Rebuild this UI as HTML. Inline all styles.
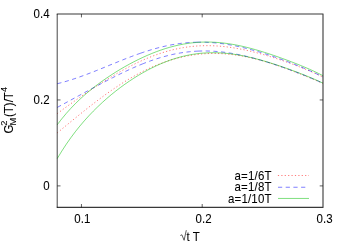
<!DOCTYPE html>
<html><head><meta charset="utf-8"><style>
html,body{margin:0;padding:0;background:#fff;}
svg{display:block}
text{font-family:"Liberation Sans",sans-serif;font-size:11.5px;fill:#000;stroke:#000;stroke-width:0.06px}
</style></head><body>
<svg width="350" height="245" viewBox="0 0 350 245">
<defs><filter id="soft" x="-5%" y="-5%" width="110%" height="110%"><feGaussianBlur stdDeviation="0.4"/></filter></defs>
<rect width="350" height="245" fill="#fff"/>
<g fill="none" stroke-width="0.8" stroke-opacity="0.63">
<path d="M57.30 113.57 C58.05 113.02 60.30 111.34 61.80 110.23 C63.30 109.13 64.80 108.03 66.30 106.95 C67.80 105.86 69.30 104.78 70.81 103.71 C72.31 102.63 73.81 101.57 75.31 100.51 C76.81 99.45 78.31 98.40 79.81 97.36 C81.31 96.32 82.81 95.29 84.31 94.26 C85.81 93.23 87.31 92.22 88.81 91.21 C90.31 90.20 91.81 89.20 93.31 88.20 C94.81 87.21 96.31 86.23 97.82 85.26 C99.32 84.29 100.82 83.33 102.32 82.38 C103.82 81.43 105.32 80.49 106.82 79.56 C108.32 78.63 109.82 77.72 111.32 76.81 C112.82 75.91 114.32 75.02 115.82 74.15 C117.32 73.27 118.82 72.41 120.32 71.57 C121.82 70.72 123.32 69.89 124.83 69.08 C126.33 68.27 127.83 67.47 129.33 66.69 C130.83 65.91 132.33 65.15 133.83 64.40 C135.33 63.66 136.83 62.94 138.33 62.23 C139.83 61.52 141.33 60.84 142.83 60.17 C144.33 59.51 145.83 58.86 147.33 58.24 C148.83 57.61 150.34 57.01 151.84 56.43 C153.34 55.85 154.84 55.29 156.34 54.75 C157.84 54.21 159.34 53.70 160.84 53.21 C162.34 52.72 163.84 52.25 165.34 51.80 C166.84 51.36 168.34 50.94 169.84 50.54 C171.34 50.15 172.84 49.77 174.34 49.43 C175.84 49.08 177.35 48.75 178.85 48.45 C180.35 48.16 181.85 47.88 183.35 47.63 C184.85 47.38 186.35 47.15 187.85 46.95 C189.35 46.75 190.85 46.57 192.35 46.42 C193.85 46.26 195.35 46.13 196.85 46.03 C198.35 45.92 199.85 45.84 201.35 45.78 C202.85 45.72 204.36 45.68 205.86 45.67 C207.36 45.66 208.86 45.67 210.36 45.70 C211.86 45.73 213.36 45.78 214.86 45.86 C216.36 45.93 217.86 46.03 219.36 46.15 C220.86 46.26 222.36 46.40 223.86 46.56 C225.36 46.72 226.86 46.89 228.36 47.09 C229.86 47.28 231.37 47.50 232.87 47.73 C234.37 47.96 235.87 48.21 237.37 48.48 C238.87 48.75 240.37 49.03 241.87 49.33 C243.37 49.63 244.87 49.94 246.37 50.27 C247.87 50.60 249.37 50.95 250.87 51.31 C252.37 51.66 253.87 52.04 255.37 52.42 C256.88 52.81 258.38 53.21 259.88 53.61 C261.38 54.02 262.88 54.45 264.38 54.88 C265.88 55.31 267.38 55.76 268.88 56.21 C270.38 56.66 271.88 57.13 273.38 57.60 C274.88 58.08 276.38 58.56 277.88 59.06 C279.38 59.55 280.88 60.05 282.38 60.57 C283.89 61.08 285.39 61.60 286.89 62.13 C288.39 62.66 289.89 63.20 291.39 63.75 C292.89 64.30 294.39 64.86 295.89 65.43 C297.39 66.00 298.89 66.58 300.39 67.17 C301.89 67.76 303.39 68.36 304.89 68.97 C306.39 69.59 307.89 70.21 309.39 70.85 C310.90 71.49 312.40 72.14 313.90 72.81 C315.40 73.48 316.90 74.16 318.40 74.86 C319.90 75.56 322.15 76.65 322.90 77.01" stroke="#ff0000" stroke-dasharray="1.2 2.2" stroke-width="1" stroke-opacity="0.52"/>
<path d="M57.30 132.83 C58.05 132.22 60.30 130.37 61.80 129.14 C63.30 127.90 64.80 126.67 66.30 125.43 C67.80 124.20 69.30 122.96 70.81 121.73 C72.31 120.50 73.81 119.27 75.31 118.05 C76.81 116.82 78.31 115.60 79.81 114.39 C81.31 113.18 82.81 111.97 84.31 110.77 C85.81 109.58 87.31 108.39 88.81 107.21 C90.31 106.03 91.81 104.86 93.31 103.71 C94.81 102.55 96.31 101.41 97.82 100.27 C99.32 99.14 100.82 98.02 102.32 96.92 C103.82 95.82 105.32 94.73 106.82 93.65 C108.32 92.58 109.82 91.52 111.32 90.48 C112.82 89.44 114.32 88.42 115.82 87.41 C117.32 86.41 118.82 85.42 120.32 84.45 C121.82 83.48 123.32 82.53 124.83 81.60 C126.33 80.67 127.83 79.76 129.33 78.88 C130.83 77.99 132.33 77.12 133.83 76.27 C135.33 75.42 136.83 74.60 138.33 73.80 C139.83 72.99 141.33 72.21 142.83 71.45 C144.33 70.69 145.83 69.96 147.33 69.24 C148.83 68.53 150.34 67.84 151.84 67.17 C153.34 66.51 154.84 65.87 156.34 65.25 C157.84 64.63 159.34 64.03 160.84 63.46 C162.34 62.89 163.84 62.34 165.34 61.82 C166.84 61.30 168.34 60.80 169.84 60.33 C171.34 59.85 172.84 59.41 174.34 58.98 C175.84 58.56 177.35 58.16 178.85 57.78 C180.35 57.41 181.85 57.06 183.35 56.73 C184.85 56.41 186.35 56.11 187.85 55.83 C189.35 55.55 190.85 55.30 192.35 55.08 C193.85 54.85 195.35 54.65 196.85 54.47 C198.35 54.29 199.85 54.13 201.35 54.00 C202.85 53.87 204.36 53.77 205.86 53.68 C207.36 53.60 208.86 53.54 210.36 53.51 C211.86 53.47 213.36 53.46 214.86 53.47 C216.36 53.48 217.86 53.51 219.36 53.57 C220.86 53.62 222.36 53.70 223.86 53.80 C225.36 53.90 226.86 54.02 228.36 54.16 C229.86 54.31 231.37 54.47 232.87 54.66 C234.37 54.84 235.87 55.05 237.37 55.27 C238.87 55.50 240.37 55.74 241.87 56.01 C243.37 56.27 244.87 56.56 246.37 56.86 C247.87 57.16 249.37 57.49 250.87 57.82 C252.37 58.16 253.87 58.52 255.37 58.89 C256.88 59.27 258.38 59.66 259.88 60.06 C261.38 60.47 262.88 60.89 264.38 61.33 C265.88 61.76 267.38 62.21 268.88 62.68 C270.38 63.14 271.88 63.62 273.38 64.12 C274.88 64.61 276.38 65.11 277.88 65.63 C279.38 66.14 280.88 66.67 282.38 67.21 C283.89 67.74 285.39 68.29 286.89 68.85 C288.39 69.41 289.89 69.97 291.39 70.55 C292.89 71.12 294.39 71.70 295.89 72.29 C297.39 72.88 298.89 73.47 300.39 74.07 C301.89 74.67 303.39 75.27 304.89 75.88 C306.39 76.48 307.89 77.09 309.39 77.70 C310.90 78.32 312.40 78.93 313.90 79.54 C315.40 80.15 316.90 80.77 318.40 81.38 C319.90 81.99 322.15 82.90 322.90 83.21" stroke="#ff0000" stroke-dasharray="1.2 2.2" stroke-width="1" stroke-opacity="0.52"/>
<path d="M57.30 83.70 C58.03 83.52 60.22 82.97 61.67 82.58 C63.13 82.19 64.59 81.78 66.05 81.35 C67.51 80.93 68.96 80.49 70.42 80.03 C71.88 79.57 73.34 79.10 74.79 78.61 C76.25 78.13 77.71 77.63 79.17 77.11 C80.63 76.60 82.08 76.08 83.54 75.54 C85.00 75.01 86.46 74.46 87.92 73.90 C89.37 73.35 90.83 72.78 92.29 72.21 C93.75 71.64 95.21 71.07 96.66 70.48 C98.12 69.90 99.58 69.31 101.04 68.72 C102.49 68.13 103.95 67.53 105.41 66.94 C106.87 66.34 108.33 65.74 109.78 65.14 C111.24 64.55 112.70 63.95 114.16 63.35 C115.62 62.76 117.07 62.16 118.53 61.58 C119.99 60.99 121.45 60.40 122.91 59.82 C124.36 59.25 125.82 58.67 127.28 58.11 C128.74 57.54 130.19 56.99 131.65 56.44 C133.11 55.89 134.57 55.35 136.03 54.82 C137.48 54.30 139.67 53.53 140.40 53.28" stroke="#0000ff" stroke-dasharray="4.2 3.5"/>
<path d="M140.40 53.28 C141.12 53.03 143.30 52.28 144.75 51.81 C146.19 51.33 147.64 50.87 149.09 50.43 C150.54 49.98 151.99 49.55 153.44 49.13 C154.89 48.71 156.34 48.31 157.78 47.93 C159.23 47.55 160.68 47.18 162.13 46.83 C163.58 46.48 165.03 46.15 166.48 45.84 C167.93 45.53 169.37 45.23 170.82 44.96 C172.27 44.69 173.72 44.43 175.17 44.20 C176.62 43.96 178.07 43.75 179.52 43.55 C180.96 43.36 182.41 43.18 183.86 43.03 C185.31 42.87 186.76 42.74 188.21 42.63 C189.66 42.51 191.11 42.42 192.55 42.35 C194.00 42.28 196.18 42.22 196.90 42.19" stroke="#0000ff" stroke-dasharray="4.2 3.5"/>
<path d="M196.90 42.19 C197.60 42.19 199.70 42.15 201.10 42.16 C202.50 42.17 203.90 42.20 205.30 42.24 C206.70 42.29 208.10 42.35 209.50 42.43 C210.90 42.52 212.30 42.62 213.70 42.74 C215.10 42.85 216.50 42.99 217.90 43.14 C219.30 43.30 220.70 43.47 222.10 43.65 C223.50 43.84 224.90 44.05 226.30 44.27 C227.70 44.48 229.10 44.72 230.50 44.97 C231.90 45.22 233.30 45.49 234.70 45.77 C236.10 46.05 237.50 46.34 238.90 46.65 C240.30 46.96 241.70 47.28 243.10 47.62 C244.50 47.95 245.90 48.30 247.30 48.66 C248.70 49.02 250.10 49.39 251.50 49.77 C252.90 50.16 254.30 50.55 255.70 50.96 C257.10 51.36 258.50 51.78 259.90 52.20 C261.30 52.62 262.70 53.06 264.10 53.50 C265.50 53.95 266.90 54.40 268.30 54.86 C269.70 55.32 271.10 55.79 272.50 56.27 C273.90 56.74 275.30 57.23 276.70 57.72 C278.10 58.21 279.50 58.71 280.90 59.22 C282.30 59.73 283.70 60.24 285.10 60.76 C286.50 61.28 287.90 61.81 289.30 62.35 C290.70 62.88 292.10 63.43 293.50 63.98 C294.90 64.53 296.30 65.09 297.70 65.65 C299.10 66.22 300.50 66.79 301.90 67.37 C303.30 67.96 304.70 68.55 306.10 69.15 C307.50 69.75 308.90 70.36 310.30 70.98 C311.70 71.60 313.10 72.23 314.50 72.87 C315.90 73.52 317.30 74.17 318.70 74.84 C320.10 75.51 322.20 76.56 322.90 76.90" stroke="#0000ff" stroke-dasharray="4.2 3.5"/>
<path d="M57.30 107.40 C58.01 107.01 60.12 105.85 61.53 105.08 C62.95 104.31 64.36 103.54 65.77 102.77 C67.18 102.00 68.59 101.23 70.00 100.47 C71.42 99.70 72.83 98.93 74.24 98.17 C75.65 97.40 77.06 96.63 78.47 95.86 C79.89 95.10 81.30 94.33 82.71 93.57 C84.12 92.80 85.53 92.04 86.94 91.27 C88.36 90.51 89.77 89.75 91.18 88.99 C92.59 88.23 94.00 87.47 95.41 86.71 C96.83 85.96 98.24 85.20 99.65 84.45 C101.06 83.70 102.47 82.96 103.88 82.21 C105.30 81.47 106.71 80.74 108.12 80.00 C109.53 79.27 110.94 78.55 112.36 77.83 C113.77 77.11 115.18 76.40 116.59 75.69 C118.00 74.99 119.41 74.29 120.83 73.60 C122.24 72.92 123.65 72.24 125.06 71.57 C126.47 70.90 127.88 70.24 129.30 69.60 C130.71 68.95 132.12 68.31 133.53 67.69 C134.94 67.07 136.35 66.46 137.76 65.86 C139.18 65.27 141.29 64.41 142.00 64.12" stroke="#0000ff" stroke-dasharray="4.2 3.5"/>
<path d="M142.00 64.12 C142.72 63.84 144.87 62.98 146.31 62.43 C147.74 61.89 149.18 61.36 150.62 60.84 C152.05 60.33 153.49 59.84 154.92 59.36 C156.36 58.89 157.79 58.43 159.23 57.99 C160.67 57.55 162.10 57.13 163.54 56.73 C164.97 56.33 166.41 55.94 167.85 55.58 C169.28 55.22 170.72 54.88 172.15 54.56 C173.59 54.24 175.03 53.94 176.46 53.67 C177.90 53.39 179.33 53.13 180.77 52.90 C182.21 52.66 183.64 52.45 185.08 52.26 C186.51 52.07 187.95 51.90 189.38 51.75 C190.82 51.60 192.26 51.47 193.69 51.37 C195.13 51.26 197.28 51.16 198.00 51.11" stroke="#0000ff" stroke-dasharray="4.2 3.5"/>
<path d="M198.00 51.11 C198.69 51.09 200.78 51.01 202.16 50.99 C203.55 50.97 204.94 50.97 206.33 50.99 C207.71 51.01 209.10 51.04 210.49 51.10 C211.88 51.16 213.27 51.23 214.65 51.32 C216.04 51.42 217.43 51.53 218.82 51.66 C220.20 51.79 221.59 51.94 222.98 52.10 C224.37 52.26 225.76 52.44 227.14 52.64 C228.53 52.84 229.92 53.05 231.31 53.28 C232.69 53.51 234.08 53.75 235.47 54.01 C236.86 54.27 238.25 54.55 239.63 54.83 C241.02 55.12 242.41 55.42 243.80 55.74 C245.18 56.05 246.57 56.38 247.96 56.72 C249.35 57.05 250.74 57.41 252.12 57.77 C253.51 58.13 254.90 58.50 256.29 58.89 C257.67 59.27 259.06 59.66 260.45 60.06 C261.84 60.47 263.23 60.88 264.61 61.30 C266.00 61.72 267.39 62.15 268.78 62.59 C270.16 63.03 271.55 63.47 272.94 63.92 C274.33 64.38 275.72 64.84 277.10 65.30 C278.49 65.77 279.88 66.24 281.27 66.72 C282.65 67.20 284.04 67.69 285.43 68.18 C286.82 68.67 288.21 69.17 289.59 69.68 C290.98 70.18 292.37 70.69 293.76 71.21 C295.14 71.73 296.53 72.25 297.92 72.78 C299.31 73.31 300.70 73.85 302.08 74.40 C303.47 74.94 304.86 75.49 306.25 76.05 C307.63 76.61 309.02 77.18 310.41 77.76 C311.80 78.33 313.19 78.92 314.57 79.52 C315.96 80.12 317.35 80.72 318.74 81.35 C320.12 81.97 322.21 82.93 322.90 83.25" stroke="#0000ff" stroke-dasharray="4.2 3.5"/>
<path d="M57.30 124.72 C58.05 123.74 60.30 120.71 61.80 118.82 C63.30 116.94 64.80 115.14 66.30 113.40 C67.80 111.66 69.30 109.99 70.81 108.38 C72.31 106.76 73.81 105.21 75.31 103.71 C76.81 102.21 78.31 100.76 79.81 99.35 C81.31 97.95 82.81 96.59 84.31 95.27 C85.81 93.95 87.31 92.67 88.81 91.42 C90.31 90.17 91.81 88.96 93.31 87.78 C94.81 86.60 96.31 85.45 97.82 84.33 C99.32 83.21 100.82 82.11 102.32 81.04 C103.82 79.97 105.32 78.93 106.82 77.91 C108.32 76.89 109.82 75.89 111.32 74.91 C112.82 73.93 114.32 72.98 115.82 72.05 C117.32 71.11 118.82 70.20 120.32 69.30 C121.82 68.41 123.32 67.54 124.83 66.68 C126.33 65.83 127.83 64.99 129.33 64.18 C130.83 63.36 132.33 62.57 133.83 61.79 C135.33 61.02 136.83 60.26 138.33 59.53 C139.83 58.79 141.33 58.08 142.83 57.38 C144.33 56.69 145.83 56.01 147.33 55.36 C148.83 54.71 150.34 54.08 151.84 53.47 C153.34 52.86 154.84 52.27 156.34 51.71 C157.84 51.14 159.34 50.60 160.84 50.08 C162.34 49.57 163.84 49.07 165.34 48.60 C166.84 48.13 168.34 47.68 169.84 47.26 C171.34 46.84 172.84 46.44 174.34 46.07 C175.84 45.70 177.35 45.35 178.85 45.03 C180.35 44.71 181.85 44.41 183.35 44.14 C184.85 43.87 186.35 43.63 187.85 43.41 C189.35 43.19 190.85 43.00 192.35 42.83 C193.85 42.67 195.35 42.53 196.85 42.42 C198.35 42.30 199.85 42.21 201.35 42.15 C202.85 42.09 204.36 42.05 205.86 42.04 C207.36 42.03 208.86 42.04 210.36 42.08 C211.86 42.12 213.36 42.18 214.86 42.27 C216.36 42.36 217.86 42.47 219.36 42.60 C220.86 42.74 222.36 42.89 223.86 43.07 C225.36 43.25 226.86 43.45 228.36 43.67 C229.86 43.89 231.37 44.14 232.87 44.40 C234.37 44.66 235.87 44.95 237.37 45.24 C238.87 45.54 240.37 45.86 241.87 46.20 C243.37 46.54 244.87 46.89 246.37 47.26 C247.87 47.62 249.37 48.01 250.87 48.41 C252.37 48.81 253.87 49.22 255.37 49.64 C256.88 50.07 258.38 50.51 259.88 50.96 C261.38 51.41 262.88 51.87 264.38 52.34 C265.88 52.81 267.38 53.30 268.88 53.79 C270.38 54.28 271.88 54.78 273.38 55.29 C274.88 55.80 276.38 56.32 277.88 56.85 C279.38 57.38 280.88 57.91 282.38 58.46 C283.89 59.00 285.39 59.55 286.89 60.11 C288.39 60.67 289.89 61.23 291.39 61.81 C292.89 62.38 294.39 62.97 295.89 63.56 C297.39 64.15 298.89 64.75 300.39 65.36 C301.89 65.98 303.39 66.60 304.89 67.24 C306.39 67.87 307.89 68.52 309.39 69.18 C310.90 69.85 312.40 70.53 313.90 71.23 C315.40 71.93 316.90 72.64 318.40 73.38 C319.90 74.12 322.15 75.29 322.90 75.68" stroke="#00c000"/>
<path d="M57.30 158.53 C58.05 157.29 60.30 153.48 61.80 151.09 C63.30 148.70 64.80 146.40 66.30 144.18 C67.80 141.96 69.30 139.82 70.81 137.75 C72.31 135.68 73.81 133.68 75.31 131.74 C76.81 129.81 78.31 127.94 79.81 126.12 C81.31 124.30 82.81 122.54 84.31 120.83 C85.81 119.12 87.31 117.47 88.81 115.86 C90.31 114.24 91.81 112.68 93.31 111.15 C94.81 109.63 96.31 108.15 97.82 106.70 C99.32 105.25 100.82 103.85 102.32 102.48 C103.82 101.10 105.32 99.77 106.82 98.46 C108.32 97.16 109.82 95.89 111.32 94.65 C112.82 93.41 114.32 92.20 115.82 91.02 C117.32 89.84 118.82 88.69 120.32 87.57 C121.82 86.44 123.32 85.35 124.83 84.28 C126.33 83.21 127.83 82.17 129.33 81.16 C130.83 80.15 132.33 79.16 133.83 78.20 C135.33 77.24 136.83 76.31 138.33 75.40 C139.83 74.49 141.33 73.61 142.83 72.76 C144.33 71.90 145.83 71.07 147.33 70.27 C148.83 69.47 150.34 68.69 151.84 67.94 C153.34 67.20 154.84 66.47 156.34 65.78 C157.84 65.08 159.34 64.42 160.84 63.78 C162.34 63.13 163.84 62.52 165.34 61.94 C166.84 61.35 168.34 60.79 169.84 60.26 C171.34 59.73 172.84 59.23 174.34 58.75 C175.84 58.28 177.35 57.83 178.85 57.41 C180.35 56.99 181.85 56.60 183.35 56.24 C184.85 55.88 186.35 55.54 187.85 55.24 C189.35 54.93 190.85 54.66 192.35 54.41 C193.85 54.16 195.35 53.93 196.85 53.74 C198.35 53.55 199.85 53.38 201.35 53.24 C202.85 53.10 204.36 52.99 205.86 52.91 C207.36 52.82 208.86 52.76 210.36 52.73 C211.86 52.70 213.36 52.69 214.86 52.71 C216.36 52.73 217.86 52.78 219.36 52.85 C220.86 52.92 222.36 53.01 223.86 53.13 C225.36 53.24 226.86 53.39 228.36 53.55 C229.86 53.71 231.37 53.90 232.87 54.10 C234.37 54.31 235.87 54.54 237.37 54.79 C238.87 55.03 240.37 55.30 241.87 55.59 C243.37 55.87 244.87 56.18 246.37 56.50 C247.87 56.82 249.37 57.16 250.87 57.52 C252.37 57.87 253.87 58.24 255.37 58.63 C256.88 59.01 258.38 59.41 259.88 59.83 C261.38 60.24 262.88 60.66 264.38 61.10 C265.88 61.54 267.38 61.99 268.88 62.45 C270.38 62.91 271.88 63.38 273.38 63.87 C274.88 64.35 276.38 64.84 277.88 65.34 C279.38 65.84 280.88 66.35 282.38 66.86 C283.89 67.38 285.39 67.91 286.89 68.44 C288.39 68.98 289.89 69.52 291.39 70.07 C292.89 70.62 294.39 71.18 295.89 71.74 C297.39 72.31 298.89 72.88 300.39 73.47 C301.89 74.05 303.39 74.65 304.89 75.25 C306.39 75.86 307.89 76.47 309.39 77.10 C310.90 77.72 312.40 78.36 313.90 79.01 C315.40 79.67 316.90 80.33 318.40 81.02 C319.90 81.71 322.15 82.78 322.90 83.13" stroke="#00c000"/>
<path d="M277.9 175.5H309" stroke="#ff0000" stroke-dasharray="1.2 2.2" stroke-width="1" stroke-opacity="0.52"/>
<path d="M278 187.25H308.5" stroke="#0000ff" stroke-dasharray="4.2 3.5"/>
<path d="M278 198.45H309" stroke="#00c000"/>
</g>
<g fill="none" stroke="#000" stroke-width="1.1" stroke-opacity="0.78">
<path d="M56.75 14.0H323.45 M56.75 207.4H323.45 M323 14.0V207.4"/>
<path d="M57.22 14.0V207.4" stroke-opacity="0.66"/>
</g>
<g fill="none" stroke="#000" stroke-width="1" stroke-opacity="0.62">
<path d="M57.3 185.9h3.2 M322.9 185.9h-3.2 M57.3 99.95h3.2 M322.9 99.95h-3.2"/>
<path d="M81.45 207.4v-3.4 M81.45 14.0v3.4 M202.2 207.4v-3.4 M202.2 14.0v3.4"/>
</g>
<g filter="url(#soft)">
<text transform="translate(49.6 18) scale(1 1.06)" text-anchor="end">0.4</text>
<text transform="translate(49.6 104) scale(1 1.06)" text-anchor="end">0.2</text>
<text transform="translate(49.6 190) scale(1 1.06)" text-anchor="end">0</text>
<text transform="translate(82.3 223.3) scale(1 1.06)" text-anchor="middle">0.1</text>
<text transform="translate(203.6 223.3) scale(1 1.06)" text-anchor="middle">0.2</text>
<text transform="translate(324.6 223.3) scale(1 1.06)" text-anchor="middle">0.3</text>
<text transform="translate(271.7 179.6) scale(1 1.06)" text-anchor="end" letter-spacing="0.18">a=1/6T</text>
<text transform="translate(271.7 191) scale(1 1.06)" text-anchor="end" letter-spacing="0.18">a=1/8T</text>
<text transform="translate(271.7 202.6) scale(1 1.06)" text-anchor="end" letter-spacing="0.18">a=1/10T</text>
<text transform="translate(186.5 240.8) scale(1 1.06)">t T</text>
<path d="M180.3 235.5L181.9 234.8L184.1 240.3L186.3 230.2" fill="none" stroke="#000" stroke-width="0.75" stroke-opacity="0.85"/>
<g transform="translate(13.2 133.6) rotate(-90) scale(1 1.06)">
<text x="0" y="0">G<tspan font-size="9.2px" dy="2.6" dx="-0.9">M</tspan><tspan dy="-2.6" dx="0.9">(T)/T</tspan><tspan font-size="9.2px" dy="-6.1">4</tspan></text>
<text x="7.9" y="-6.2" style="font-size:9.2px">2</text>
</g>
</g>
</svg>
</body></html>
